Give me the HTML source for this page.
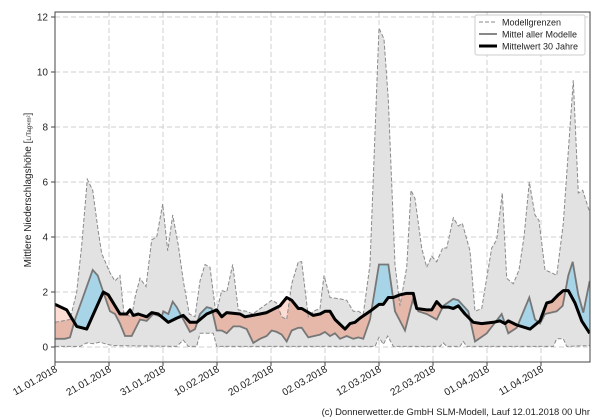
<!DOCTYPE html>
<html><head><meta charset="utf-8"><style>
html,body{margin:0;padding:0;background:#fff;}
svg{display:block;font-family:"Liberation Sans","DejaVu Sans",sans-serif;}
</style></head><body>
<svg id="s" width="600" height="420" xmlns="http://www.w3.org/2000/svg"></svg>
<script>
function conv(L,R){var o=[];L.forEach(function(p){o.push([p[0]/3,p[1]]);});R.forEach(function(p){o.push([300+p[0]/3,p[1]]);});return o;}
var up=conv([[165,0.9],[210,1.0],[230,2.0],[245,3.7],[262,6.1],[278,5.7],[295,4.2],[305,3.4],[330,2.7],[345,2.4],[360,2.6],[372,1.2],[395,1.1],[405,1.8],[420,2.5],[438,2.2],[455,3.9],[470,4.0],[488,5.2],[503,3.5],[518,4.8],[535,3.7],[550,2.4],[568,1.2],[585,1.1],[600,2.4],[615,3.0],[630,2.9],[648,1.2],[665,2.05],[680,2.0],[698,3.0],[715,1.35],[740,1.3],[758,1.2],[815,1.7],[830,1.6],[845,1.1],[860,1.0],[875,2.3],[895,3.1]],
[[5,3.1],[25,1.1],[40,1.3],[60,1.4],[72,2.6],[90,1.8],[120,1.75],[140,1.7],[160,1.3],[175,1.3],[190,1.2],[210,3.0],[237,11.6],[252,11.2],[265,9.0],[285,3.0],[300,1.5],[320,2.9],[333,5.7],[345,5.4],[365,3.6],[380,2.9],[395,3.3],[410,3.1],[428,3.6],[440,3.6],[460,4.7],[475,4.4],[487,4.5],[510,3.5],[525,1.3],[545,1.4],[575,3.6],[590,3.9],[607,5.6],[620,2.5],[640,2.3],[657,2.8],[672,4.0],[688,6.0],[705,4.8],[717,4.6],[735,2.8],[755,2.7],[770,2.6],[790,4.5],[810,8.0],[820,9.7],[835,5.6],[848,5.7],[869,4.9]]);
var lo=conv([[165,0.02],[240,0.02],[260,0.15],[280,0.12],[300,0.18],[320,0.1],[340,0.05],[530,0.02],[550,0.25],[565,0.02],[590,0.02],[600,0.5],[640,0.5],[650,0.02],[895,0.02]],
[[0,0.02],[225,0.02],[237,0.35],[250,0.1],[263,0.4],[280,0.02],[420,0.02],[430,0.15],[440,0.02],[480,0.02],[490,0.2],[500,0.02],[760,0.02],[770,0.3],[790,0.3],[800,0.02],[869,0.05]]);
var mn=conv([[165,0.3],[195,0.3],[210,0.35],[225,1.0],[278,2.8],[293,2.6],[310,2.0],[330,1.3],[345,1.2],[360,0.85],[375,0.4],[395,0.4],[420,1.0],[440,0.95],[460,1.2],[485,1.1],[490,1.3],[505,1.2],[518,1.65],[530,1.45],[550,1.0],[570,0.55],[585,0.65],[600,1.2],[620,1.45],[635,1.4],[650,0.6],[665,0.6],[680,0.5],[700,0.75],[720,0.75],[740,0.65],[760,0.15],[780,0.3],[800,0.4],[815,0.6],[830,0.55],[845,0.45],[860,0.2],[875,0.6],[895,0.7]],
[[5,0.7],[25,0.35],[60,0.45],[75,0.55],[90,0.4],[105,0.5],[120,0.3],[140,0.4],[160,0.3],[175,0.35],[190,0.3],[210,1.0],[237,3.0],[265,3.0],[285,1.3],[315,0.6],[338,1.7],[355,1.3],[380,1.2],[410,1.0],[430,1.5],[460,1.75],[475,1.7],[505,1.3],[525,0.2],[560,0.5],[605,1.2],[625,0.5],[650,0.7],[688,1.8],[705,1.0],[720,0.85],[735,1.2],[770,1.3],[788,1.5],[805,2.6],[818,3.1],[835,1.9],[850,1.25],[869,2.4]]);
var bk=conv([[165,1.55],[200,1.35],[230,0.75],[260,0.65],[310,2.0],[325,1.9],[360,1.2],[380,1.2],[390,1.35],[400,1.15],[415,1.2],[440,1.1],[455,1.25],[475,1.2],[505,0.9],[530,1.05],[550,1.15],[570,0.9],[590,0.9],[620,1.2],[650,1.35],[665,1.1],[680,1.25],[720,1.2],[735,1.1],[780,1.2],[800,1.25],[840,1.5],[860,1.8],[875,1.7],[895,1.4]],
[[5,1.4],[40,1.15],[60,1.2],[75,1.3],[90,1.3],[105,1.0],[135,0.65],[150,0.85],[165,0.9],[180,1.05],[210,1.3],[237,1.55],[250,1.55],[265,1.8],[280,1.8],[300,1.9],[320,1.95],[340,1.95],[350,1.4],[380,1.35],[395,1.35],[410,1.65],[425,1.45],[445,1.45],[460,1.4],[475,1.5],[495,1.2],[520,0.9],[545,0.85],[580,0.9],[600,0.95],[615,0.85],[625,0.95],[650,0.8],[690,0.65],[720,0.95],[740,1.6],[755,1.65],[775,1.9],[790,2.05],[805,2.05],[825,1.6],[845,0.95],[869,0.5]]);
function Y(v){return 347-27.5*v;}
function pts(a){return a.map(function(p){return p[0].toFixed(1)+','+Y(p[1]).toFixed(1);}).join(' ');}
function rev(a){return a.slice().reverse();}
var h='';
h+='<defs>';
h+='<clipPath id="cg"><polygon points="'+pts(up)+' '+pts(rev(lo))+'"/></clipPath>';
h+='<clipPath id="aboveM"><polygon points="'+pts(mn)+' 590,0 55,0"/></clipPath>';
h+='<clipPath id="belowM"><polygon points="'+pts(mn)+' 590,420 55,420"/></clipPath>';
h+='<clipPath id="belowB"><polygon points="'+pts(bk)+' 590,420 55,420"/></clipPath>';
h+='<clipPath id="aboveB"><polygon points="'+pts(bk)+' 590,0 55,0"/></clipPath>';
h+='<clipPath id="plot"><rect x="55" y="12" width="535" height="350"/></clipPath>';
h+='</defs>';
var g='';
for(var i=0;i<=12;i+=2){var y=Y(i);g+='<line x1="55" x2="590" y1="'+y+'" y2="'+y+'" stroke="#cfcfcf" stroke-dasharray="5,3"/>';}
var labs=['11.01.2018','21.01.2018','31.01.2018','10.02.2018','20.02.2018','02.03.2018','12.03.2018','22.03.2018','01.04.2018','11.04.2018'];
for(var k=0;k<10;k++){var x=55+54*k;g+='<line y1="12" y2="362" x1="'+x+'" x2="'+x+'" stroke="#cfcfcf" stroke-dasharray="5,3"/>';}
h+=g;
h+='<g clip-path="url(#plot)">';
h+='<g clip-path="url(#aboveM)"><g clip-path="url(#belowB)"><rect x="55" y="0" width="535" height="420" fill="#fcdcd3"/></g></g>';
h+='<polygon points="'+pts(up)+' '+pts(rev(lo))+'" fill="#e2e2e2"/>';
h+='<g clip-path="url(#cg)"><g clip-path="url(#aboveM)"><g clip-path="url(#belowB)"><rect x="55" y="0" width="535" height="420" fill="#e5b8aa"/></g></g></g>';
h+='<g clip-path="url(#belowM)"><g clip-path="url(#aboveB)"><rect x="55" y="0" width="535" height="420" fill="#a7d4e6"/></g></g>';
h+='<polyline points="'+pts(up)+'" fill="none" stroke="#8a8a8a" stroke-width="1" stroke-dasharray="4,2"/>';
h+='<polyline points="'+pts(lo)+'" fill="none" stroke="#8a8a8a" stroke-width="1" stroke-dasharray="4,2"/>';
h+='<polyline points="'+pts(mn)+'" fill="none" stroke="#777" stroke-width="1.8"/>';
h+='<polyline points="'+pts(bk)+'" fill="none" stroke="#000" stroke-width="3" stroke-linejoin="round"/>';
h+='</g>';
h+='<rect x="55" y="12" width="535" height="350" fill="none" stroke="#444" stroke-width="1"/>';
for(var i=0;i<=12;i+=2){var y=Y(i);h+='<line x1="51" x2="55" y1="'+y+'" y2="'+y+'" stroke="#444"/><text x="48" y="'+(y+3.5)+'" font-size="10" text-anchor="end" fill="#222">'+i+'</text>';}
for(var k=0;k<10;k++){var x=55+54*k;h+='<line y1="362" y2="366" x1="'+x+'" x2="'+x+'" stroke="#444"/><text transform="translate('+(x+3)+',371) rotate(-30)" font-size="10" text-anchor="end" fill="#222">'+labs[k]+'</text>';}
h+='<text transform="translate(31,190) rotate(-90)" font-size="10" text-anchor="middle" fill="#222">Mittlere Niederschlagshöhe [<tspan font-size="6">L/Tag×m²</tspan>]</text>';
h+='<rect x="475" y="15" width="110" height="40" fill="#fff" fill-opacity="0.9" stroke="#ccc" rx="2"/>';
h+='<line x1="479" x2="497" y1="22" y2="22" stroke="#8a8a8a" stroke-dasharray="4,2"/><text x="502" y="25.5" font-size="9" fill="#222">Modellgrenzen</text>';
h+='<line x1="479" x2="497" y1="34" y2="34" stroke="#777" stroke-width="1.8"/><text x="502" y="37.5" font-size="9" fill="#222">Mittel aller Modelle</text>';
h+='<line x1="479" x2="497" y1="46" y2="46" stroke="#000" stroke-width="3"/><text x="502" y="49.5" font-size="9" fill="#222">Mittelwert 30 Jahre</text>';
h+='<text x="590" y="415" font-size="9.4" text-anchor="end" fill="#222">(c) Donnerwetter.de GmbH SLM-Modell, Lauf 12.01.2018 00 Uhr</text>';
document.getElementById('s').innerHTML=h;
</script>
</body></html>
